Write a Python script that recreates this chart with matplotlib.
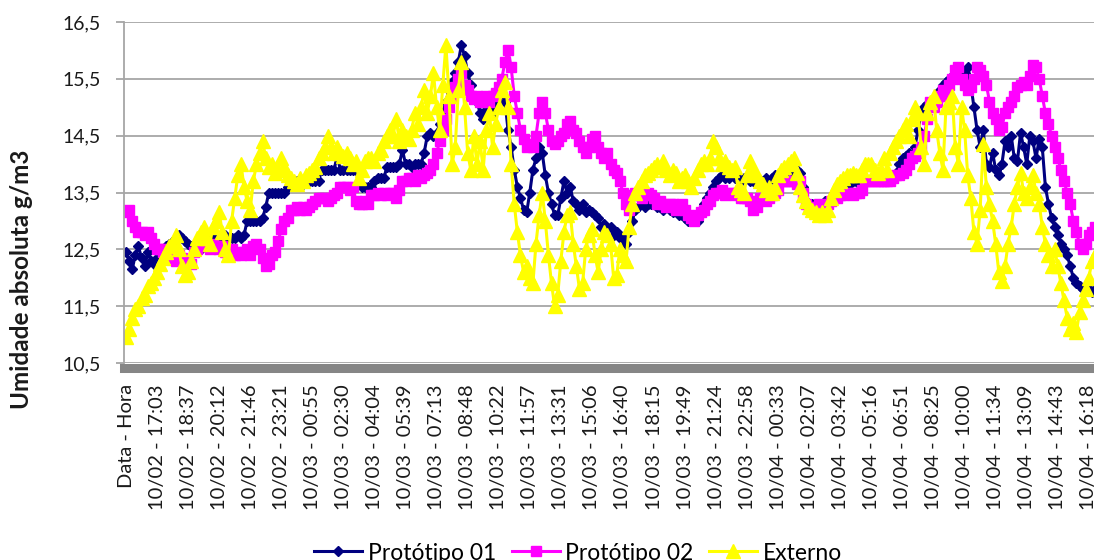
import numpy as np
import matplotlib.pyplot as plt

plt.rcParams['font.family'] = ['Lato', 'DejaVu Sans']

# Rótulos do eixo de categorias (um rótulo a cada 10 leituras)
rotulos = ['Data - Hora',
           '10/02 - 17:03', '10/02 - 18:37', '10/02 - 20:12', '10/02 - 21:46', '10/02 - 23:21',
           '10/03 - 00:55', '10/03 - 02:30', '10/03 - 04:04', '10/03 - 05:39', '10/03 - 07:13',
           '10/03 - 08:48', '10/03 - 10:22', '10/03 - 11:57', '10/03 - 13:31', '10/03 - 15:06',
           '10/03 - 16:40', '10/03 - 18:15', '10/03 - 19:49', '10/03 - 21:24', '10/03 - 22:58',
           '10/04 - 00:33', '10/04 - 02:07', '10/04 - 03:42', '10/04 - 05:16', '10/04 - 06:51',
           '10/04 - 08:25', '10/04 - 10:00', '10/04 - 11:34', '10/04 - 13:09', '10/04 - 14:43',
           '10/04 - 16:18']

# Umidade absoluta (g/m3), uma linha por intervalo entre rótulos
prototipo_01 = [
    12.45, 12.3, 12.15, 12.4, 12.55, 12.35, 12.2, 12.45, 12.3, 12.25,
    12.35, 12.45, 12.5, 12.55, 12.6, 12.65, 12.7, 12.75, 12.7, 12.65,
    12.6, 12.55, 12.5, 12.45, 12.5, 12.55, 12.6, 12.65, 12.7, 12.7,
    12.7, 12.7, 12.75, 12.7, 12.7, 12.7, 12.75, 12.7, 12.75, 13.0,
    13.0, 13.0, 13.0, 13.0, 13.05, 13.25, 13.5, 13.5, 13.5, 13.5,
    13.5, 13.5, 13.6, 13.7, 13.7, 13.7, 13.7, 13.65, 13.7, 13.7,
    13.7, 13.7, 13.7, 13.9, 13.9, 13.9, 13.9, 13.9, 14.15, 13.9,
    13.9, 13.9, 13.9, 13.9, 13.9, 13.85, 13.6, 13.6, 13.6, 13.6,
    13.7, 13.75, 13.75, 13.75, 13.95, 13.95, 13.95, 13.95, 14.0, 14.25,
    14.0, 14.0, 13.95, 14.0, 14.0, 14.0, 14.2, 14.5, 14.55, 14.5,
    14.55, 14.7, 14.9, 15.1, 15.3, 15.45, 15.6, 15.8, 16.1, 15.9,
    15.6, 15.4, 15.2, 15.1, 14.9, 14.8, 14.95, 15.0, 14.9, 15.0,
    15.1, 15.25, 15.1, 14.6, 14.3, 13.9, 13.6, 13.4, 13.2, 13.15,
    13.5, 13.9, 14.1, 14.3, 14.2, 13.8, 13.5, 13.3, 13.1, 13.1,
    13.4, 13.7, 13.5, 13.6, 13.35, 13.3, 13.2, 13.3, 13.15, 13.2,
    13.15, 13.1, 13.05, 12.9, 12.95, 12.85, 12.9, 12.75, 12.8, 12.7,
    12.7, 12.6, 12.8, 13.0, 13.2, 13.25, 13.3, 13.25, 13.3, 13.3,
    13.3, 13.25, 13.25, 13.2, 13.25, 13.2, 13.15, 13.2, 13.1, 13.1,
    13.05, 13.0, 13.0, 13.05, 13.0, 13.15, 13.3, 13.4, 13.5, 13.6,
    13.7, 13.75, 13.8, 13.75, 13.75, 13.8, 13.75, 13.75, 13.7, 13.75,
    13.75, 13.7, 13.7, 13.75, 13.7, 13.7, 13.75, 13.7, 13.75, 13.8,
    13.8, 13.85, 13.9, 13.9, 13.9, 13.85, 13.9, 13.85, 13.6, 13.35,
    13.3, 13.3, 13.25, 13.3, 13.3, 13.35, 13.3, 13.4, 13.5, 13.55,
    13.65, 13.65, 13.7, 13.65, 13.7, 13.7, 13.65, 13.7, 13.7, 13.7,
    13.7, 13.7, 13.7, 13.7, 13.7, 13.7, 13.7, 13.75, 13.85, 14.0,
    14.1, 14.15, 14.2, 14.1, 14.3, 14.6, 14.9, 15.0, 15.05, 15.1,
    15.0, 15.2, 15.3, 15.4, 15.45, 15.5, 15.55, 15.5, 15.6, 15.5,
    15.6, 15.7, 15.4, 15.0, 14.6, 14.3, 14.6, 14.0, 13.95, 14.2,
    13.9, 13.8, 14.0, 14.4, 14.3, 14.5, 14.1, 14.05, 14.55, 14.3,
    14.0, 14.5, 14.4, 14.1, 14.45, 14.3, 13.6, 13.3, 13.05, 12.9,
    12.75, 12.6, 12.5, 12.4, 12.2, 12.0, 11.9, 11.85, 11.8, 11.85,
    11.8, 11.75, 11.8, 11.9, 11.95, 12.0, 12.05, 12.1, 12.1, 12.2,
]
prototipo_02 = [
    13.15, 13.2, 13.0, 12.9, 12.8, 12.8, 12.75, 12.8, 12.7, 12.6,
    12.5, 12.5, 12.45, 12.5, 12.4, 12.35, 12.3, 12.4, 12.35, 12.3,
    12.3, 12.25, 12.45, 12.5, 12.55, 12.6, 12.55, 12.5, 12.6, 12.55,
    12.5, 12.55, 12.45, 12.4, 12.5, 12.4, 12.45, 12.4, 12.45, 12.5,
    12.4, 12.55, 12.6, 12.5, 12.35, 12.2, 12.25, 12.4, 12.45, 12.65,
    12.85, 13.0, 13.05, 13.2, 13.2, 13.25, 13.2, 13.25, 13.2, 13.25,
    13.3, 13.35, 13.4, 13.4, 13.4, 13.35, 13.4, 13.45, 13.5, 13.6,
    13.6, 13.6, 13.55, 13.6, 13.35, 13.3, 13.3, 13.35, 13.3, 13.45,
    13.45, 13.5, 13.45, 13.5, 13.45, 13.5, 13.5, 13.4, 13.55, 13.7,
    13.7, 13.75, 13.75, 13.7, 13.8, 13.75, 13.8, 13.85, 13.9, 14.0,
    14.2, 14.4, 14.6, 14.8, 15.0, 15.2, 15.35, 15.5, 15.6, 15.4,
    15.3, 15.2, 15.15, 15.2, 15.1, 15.15, 15.2, 15.1, 15.2, 15.25,
    15.35, 15.5, 15.8, 16.0, 15.7, 15.2, 14.9, 14.6, 14.45, 14.3,
    14.35, 14.3, 14.5, 14.9, 15.1, 14.9, 14.6, 14.4, 14.35, 14.4,
    14.5, 14.55, 14.7, 14.75, 14.6, 14.55, 14.4, 14.3, 14.2, 14.3,
    14.45, 14.5, 14.3, 14.2, 14.1, 14.2, 14.0, 13.9, 13.85, 13.7,
    13.5, 13.3, 13.2, 13.45, 13.5, 13.45, 13.4, 13.45, 13.5, 13.45,
    13.4, 13.3, 13.35, 13.3, 13.25, 13.3, 13.3, 13.2, 13.25, 13.3,
    13.2, 13.1, 13.05, 13.0, 13.1, 13.15, 13.2, 13.3, 13.35, 13.45,
    13.5, 13.5, 13.55, 13.45, 13.5, 13.5, 13.45, 13.5, 13.4, 13.4,
    13.4, 13.35, 13.2, 13.25, 13.4, 13.4, 13.35, 13.4, 13.45, 13.5,
    13.55, 13.7, 13.7, 13.7, 13.7, 13.7, 13.65, 13.7, 13.5, 13.3,
    13.25, 13.2, 13.25, 13.3, 13.2, 13.25, 13.3, 13.35, 13.4, 13.4,
    13.45, 13.45, 13.5, 13.5, 13.45, 13.5, 13.5, 13.55, 13.7, 13.7,
    13.7, 13.7, 13.7, 13.7, 13.7, 13.7, 13.7, 13.75, 13.8, 13.8,
    13.85, 13.9, 14.0, 14.1, 14.15, 14.2, 14.3, 14.5, 14.8, 15.1,
    15.0, 15.1, 15.2, 15.3, 15.2, 15.4, 15.5, 15.65, 15.7, 15.5,
    15.4, 15.3, 15.35, 15.5, 15.7, 15.65, 15.55, 15.4, 15.1, 14.9,
    14.8, 14.6, 14.65, 14.9, 15.0, 15.1, 15.2, 15.35, 15.4, 15.45,
    15.4, 15.55, 15.75, 15.7, 15.5, 15.2, 14.9, 14.7, 14.5, 14.3,
    14.1, 13.9, 13.7, 13.5, 13.3, 13.0, 12.8, 12.6, 12.5, 12.6,
    12.75, 12.8, 12.9, 12.85, 12.9, 12.9, 12.9, 12.9, 12.9, 12.9,
]
externo = [
    10.95, 11.1, 11.3, 11.45, 11.5, 11.65, 11.7, 11.85, 11.9, 12.0,
    12.1, 12.25, 12.35, 12.45, 12.55, 12.6, 12.75, 12.5, 12.2, 12.05,
    12.1, 12.3, 12.5, 12.7, 12.8, 12.9, 12.7, 12.6, 12.9, 13.0,
    13.15, 12.8, 12.5, 12.4, 13.0, 13.4, 13.8, 14.0, 13.6, 13.35,
    13.2, 13.7, 14.0, 14.2, 14.4, 14.1, 13.95, 14.0, 13.85, 13.9,
    14.1, 13.95, 13.8, 13.75, 13.7, 13.65, 13.75, 13.7, 13.8, 13.85,
    13.9, 13.95, 14.1, 14.2, 14.3, 14.5, 14.3, 14.2, 14.3, 14.2,
    14.15, 14.2, 14.1, 14.0, 14.05, 13.75, 13.9, 14.05, 14.1, 14.1,
    14.05, 14.2, 14.25, 14.4, 14.5, 14.6, 14.5, 14.8, 14.4, 14.6,
    14.5, 14.45, 14.6, 14.9, 14.7, 15.0, 15.3, 14.9, 15.2, 15.6,
    15.0, 14.6, 15.4, 16.1, 15.2, 14.0, 14.3, 15.3, 15.8, 15.0,
    14.2, 13.9, 14.5, 14.0, 14.4, 13.9, 14.6, 14.9, 14.3, 14.7,
    15.0, 15.3, 15.45, 15.0, 14.0, 13.3, 12.8, 12.4, 12.1, 12.2,
    12.0, 11.9, 12.6, 13.1, 13.5, 13.0, 12.4, 11.9, 11.5, 11.7,
    12.3, 12.8, 13.1, 13.15, 12.6, 12.2, 11.8, 11.9, 12.5, 12.75,
    12.85, 12.4, 12.1, 12.5, 12.8, 12.75, 12.6, 12.0, 12.05, 12.5,
    12.4, 12.3, 12.9, 13.3, 13.5, 13.6, 13.7, 13.8, 13.85, 13.9,
    13.95, 14.0, 13.95, 14.05, 13.9, 13.8, 13.9, 13.85, 13.7, 13.75,
    13.8, 13.7, 13.6, 13.75, 13.9, 14.0, 14.05, 14.0, 14.1, 14.4,
    14.3, 14.1, 14.0, 14.05, 13.95, 13.9, 13.95, 13.6, 13.55, 13.5,
    13.8, 14.05, 13.9, 13.8, 13.7, 13.65, 13.55, 13.6, 13.5, 13.6,
    13.8, 13.9, 13.95, 14.0, 14.05, 14.1, 13.85, 13.6, 13.45, 13.35,
    13.25, 13.2, 13.15, 13.1, 13.15, 13.1, 13.2, 13.4, 13.55, 13.65,
    13.7, 13.75, 13.8, 13.8, 13.85, 13.8, 13.8, 13.9, 14.0, 14.0,
    14.0, 13.9, 13.85, 13.9, 14.1, 13.9, 14.2, 14.3, 14.4, 14.5,
    14.6, 14.7, 14.5, 14.8, 15.0, 14.9, 14.3, 14.0, 14.9, 15.1,
    15.2, 14.6, 14.2, 13.9, 15.0, 15.1, 15.2, 14.3, 14.0, 15.0,
    14.6, 13.8, 13.4, 12.8, 12.6, 13.2, 14.35, 13.6, 13.3, 13.0,
    12.6, 12.1, 11.95, 12.2, 12.6, 12.9, 13.3, 13.6, 13.85, 13.5,
    13.4, 13.6, 13.8, 13.5, 13.3, 12.9, 12.6, 12.4, 12.2, 12.5,
    12.2, 11.9, 11.6, 11.3, 11.1, 11.2, 11.05, 11.4, 11.6, 11.8,
    12.0, 12.3, 12.4, 12.5, 12.6, 12.6, 12.7, 12.7, 12.8, 12.8,
]

leituras_por_rotulo = 10
x = np.arange(len(externo)) / leituras_por_rotulo

W, H = 1094, 560
fig = plt.figure(figsize=(W / 100, H / 100), dpi=100)
# a área de plotagem continua além da borda direita da figura
px_cat = 31.06
x0 = -2 / px_cat
ax = fig.add_axes([124 / W, (H - 363) / H, (33 - x0) * px_cat / W, 341 / H])

ax.plot(x, prototipo_01, color='#000080', lw=2.2, marker='D', ms=5.5, label='Protótipo 01')
ax.plot(x, prototipo_02, color='#ff00ff', lw=2.2, marker='s', ms=7, label='Protótipo 02')
ax.plot(x, externo, color='#ffff00', lw=2.2, marker='^', ms=10.5, label='Externo')

ax.set_xlim(x0, 33)
ax.set_ylim(10.5, 16.5)

yt = np.arange(10.5, 16.6, 1.0)
ax.set_yticks(yt)
ax.set_yticklabels([f'{v:.1f}'.replace('.', ',') for v in yt])
ax.tick_params(axis='y', length=6, width=1.3, color='#a6a6a6', pad=11,
               labelsize=14, labelcolor='#1a1a1a')

ax.set_xticks(range(len(rotulos)))
ax.set_xticklabels(rotulos)
ax.tick_params(axis='x', length=0, pad=12, labelsize=14.5, labelcolor='#1a1a1a',
               labelrotation=90)

ax.yaxis.grid(True, color='#a6a6a6', lw=1.3)
ax.set_axisbelow(True)

for s in ('top', 'right'):
    ax.spines[s].set_visible(False)
ax.spines['left'].set_color('#a6a6a6')
ax.spines['left'].set_linewidth(1.3)
ax.spines['bottom'].set_color('#868686')
ax.spines['bottom'].set_linewidth(6.5)
ax.spines['bottom'].set_position(('outward', 3.3))

fig.text(22 / W, 1 - 279 / H, 'Umidade absoluta g/m3', rotation=90,
         ha='center', va='center', fontsize=17.5, fontweight='bold', color='#1a1a1a')

fig.legend(loc='center', bbox_to_anchor=(578 / W, 1 - 553 / H), ncol=3,
           frameon=False, fontsize=16.5, handlelength=2.1, handletextpad=0.22,
           columnspacing=0.7, numpoints=1)

fig.savefig('out.png', dpi=100)
